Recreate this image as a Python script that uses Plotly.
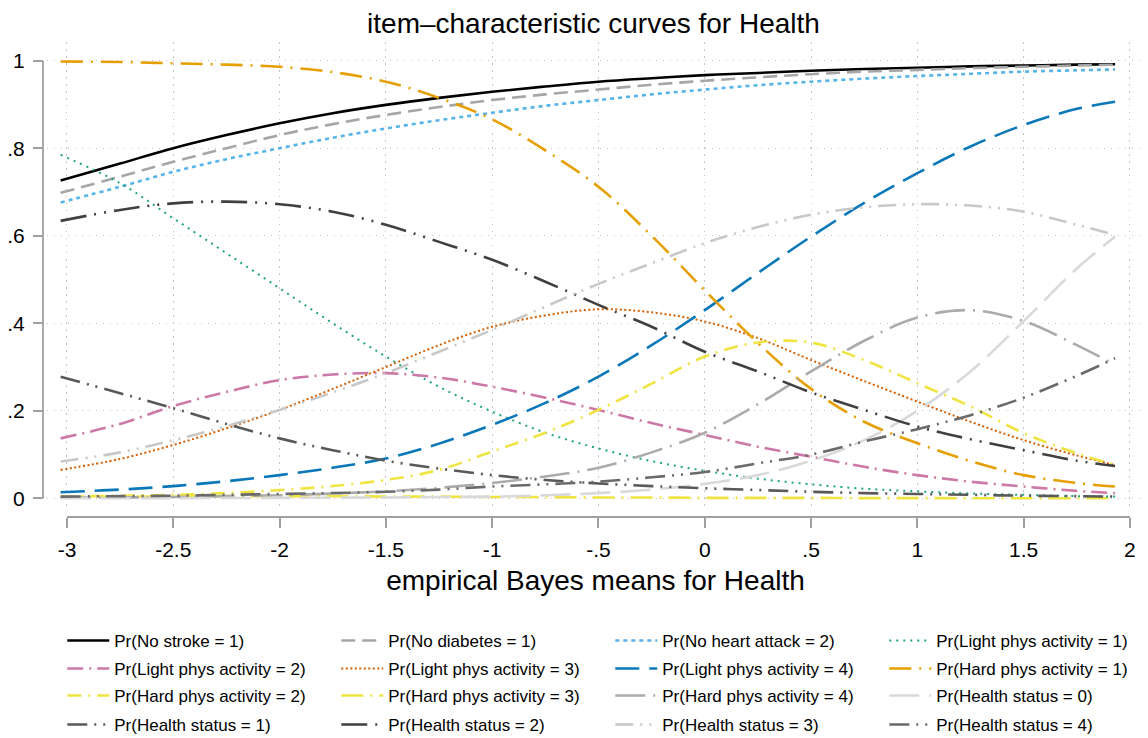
import plotly.graph_objects as go

# theta values (empirical Bayes means for Health) at which curves were read
theta = [-3.03, -2.75, -2.5, -2.25, -2.0, -1.75, -1.5, -1.25, -1.0, -0.75, -0.5,
         -0.25, 0.0, 0.25, 0.5, 0.75, 1.0, 1.25, 1.5, 1.75, 1.93]

no_stroke_1 = [0.726, 0.765, 0.800, 0.830, 0.857, 0.880, 0.899, 0.915, 0.929, 0.941, 0.952,
               0.960, 0.967, 0.972, 0.977, 0.981, 0.984, 0.987, 0.989, 0.991, 0.992]
no_diabetes_1 = [0.698, 0.735, 0.769, 0.800, 0.830, 0.855, 0.876, 0.894, 0.910, 0.923, 0.934,
                 0.945, 0.954, 0.962, 0.969, 0.975, 0.979, 0.983, 0.986, 0.989, 0.991]
no_heart_2 = [0.676, 0.712, 0.746, 0.775, 0.800, 0.824, 0.845, 0.864, 0.881, 0.897, 0.910,
              0.923, 0.934, 0.944, 0.952, 0.959, 0.965, 0.970, 0.975, 0.978, 0.980]
light_1 = [0.785, 0.720, 0.640, 0.560, 0.480, 0.400, 0.324, 0.255, 0.198, 0.150, 0.114,
           0.085, 0.063, 0.045, 0.032, 0.022, 0.016, 0.011, 0.008, 0.005, 0.004]
light_2 = [0.137, 0.170, 0.211, 0.243, 0.270, 0.283, 0.286, 0.276, 0.255, 0.230, 0.202,
           0.172, 0.145, 0.118, 0.095, 0.072, 0.053, 0.038, 0.027, 0.017, 0.012]
light_3 = [0.065, 0.090, 0.122, 0.160, 0.202, 0.250, 0.300, 0.350, 0.392, 0.418, 0.432,
           0.425, 0.404, 0.366, 0.316, 0.268, 0.221, 0.175, 0.133, 0.098, 0.076]
light_4 = [0.014, 0.020, 0.028, 0.039, 0.053, 0.070, 0.091, 0.125, 0.168, 0.218, 0.278,
           0.350, 0.430, 0.515, 0.598, 0.675, 0.743, 0.804, 0.853, 0.890, 0.906]
hard_1 = [0.998, 0.997, 0.994, 0.991, 0.986, 0.974, 0.952, 0.915, 0.866, 0.795, 0.712,
          0.600, 0.475, 0.355, 0.250, 0.175, 0.126, 0.085, 0.053, 0.035, 0.027]
hard_2 = [0.004, 0.006, 0.008, 0.012, 0.019, 0.028, 0.042, 0.065, 0.107, 0.150, 0.202,
          0.262, 0.324, 0.356, 0.356, 0.316, 0.263, 0.210, 0.149, 0.103, 0.076]
hard_3 = [0.003, 0.004, 0.004, 0.005, 0.005, 0.005, 0.004, 0.004, 0.003, 0.003, 0.002,
          0.002, 0.001, 0.001, 0.001, 0.0005, 0.0005, 0.0003, 0.0002, 0.0001, 0.0001]
hard_4 = [0.0015, 0.002, 0.003, 0.005, 0.007, 0.011, 0.016, 0.024, 0.035, 0.050, 0.070,
          0.105, 0.150, 0.215, 0.290, 0.360, 0.413, 0.430, 0.405, 0.350, 0.305]
health_0 = [0.0002, 0.0003, 0.0005, 0.0008, 0.001, 0.0015, 0.002, 0.003, 0.004, 0.007, 0.012,
            0.020, 0.033, 0.053, 0.086, 0.133, 0.200, 0.290, 0.405, 0.525, 0.598]
health_1 = [0.278, 0.240, 0.206, 0.170, 0.137, 0.110, 0.086, 0.068, 0.053, 0.042, 0.034,
            0.028, 0.023, 0.019, 0.015, 0.012, 0.010, 0.008, 0.006, 0.005, 0.004]
health_2 = [0.634, 0.659, 0.674, 0.678, 0.672, 0.655, 0.625, 0.586, 0.545, 0.495, 0.442,
            0.392, 0.335, 0.290, 0.242, 0.202, 0.164, 0.135, 0.110, 0.086, 0.074]
health_3 = [0.084, 0.105, 0.133, 0.165, 0.202, 0.242, 0.286, 0.335, 0.385, 0.438, 0.490,
            0.537, 0.583, 0.620, 0.648, 0.665, 0.672, 0.669, 0.655, 0.625, 0.602]
health_4 = [0.004, 0.005, 0.006, 0.008, 0.010, 0.012, 0.015, 0.020, 0.027, 0.032, 0.038,
            0.048, 0.060, 0.080, 0.100, 0.130, 0.158, 0.190, 0.230, 0.280, 0.320]

series_names = ["Pr(No stroke = 1)", "Pr(No diabetes = 1)", "Pr(No heart attack = 2)",
                "Pr(Light phys activity = 1)", "Pr(Light phys activity = 2)",
                "Pr(Light phys activity = 3)", "Pr(Light phys activity = 4)",
                "Pr(Hard phys activity = 1)", "Pr(Hard phys activity = 2)",
                "Pr(Hard phys activity = 3)", "Pr(Hard phys activity = 4)",
                "Pr(Health status = 0)", "Pr(Health status = 1)", "Pr(Health status = 2)",
                "Pr(Health status = 3)", "Pr(Health status = 4)"]
series_values = [no_stroke_1, no_diabetes_1, no_heart_2, light_1, light_2, light_3, light_4,
                 hard_1, hard_2, hard_3, hard_4, health_0, health_1, health_2, health_3, health_4]

x_tickvals = [-3, -2.5, -2, -1.5, -1, -0.5, 0, 0.5, 1, 1.5, 2]
x_ticktext = ["-3", "-2.5", "-2", "-1.5", "-1", "-.5", "0", ".5", "1", "1.5", "2"]
y_tickvals = [0, 0.2, 0.4, 0.6, 0.8, 1]
y_ticktext = ["0", ".2", ".4", ".6", ".8", "1"]

styles = [
    ("#000000", "solid", 2.6),
    ("#a6a6a6", "14px,7px", 2.6),
    ("#56B4E9", "4px,4px", 2.6),
    ("#1fa57d", "2px,5px", 2.0),
    ("#CC79A7", "16px,6px,2px,6px", 2.6),
    ("#D55E00", "2px,2.5px", 2.0),
    ("#0a78b8", "24px,10px", 2.6),
    ("#E69F00", "22px,8px,2px,8px", 2.6),
    ("#F0E442", "14px,7px,2px,7px", 2.6),
    ("#F0E442", "22px,7px,2px,7px", 2.6),
    ("#ababab", "30px,8px,2px,8px", 2.6),
    ("#d9d9d9", "30px,10px", 2.6),
    ("#595959", "20px,7px,2px,7px,2px,7px", 2.6),
    ("#404040", "26px,8px,2px,8px,2px,8px", 2.6),
    ("#c8c8c8", "18px,7px,2px,7px,2px,7px", 2.6),
    ("#6a6a6a", "20px,7px,2px,7px,2px,7px", 2.6),
]

FONT = "Liberation Sans, Arial, sans-serif"
axis_col = "#a0a0a0"
grid_col = "#c4c4c4"

# legend rows (4 entries per row) -> one horizontal legend per row
legend_ids = ["legend", "legend2", "legend3", "legend4"]
row_tops_px = [623, 651, 678, 707]
PAPER_BOTTOM = 517
PAPER_H = 738 - 42 - 221

# the near-zero curve is drawn first (underneath), legend order kept via legendrank
draw_order = [9] + [i for i in range(len(series_names)) if i != 9]

fig = go.Figure()
for i in draw_order:
    name, vals, (col, dash, w) = series_names[i], series_values[i], styles[i]
    fig.add_trace(go.Scatter(x=theta, y=vals, mode="lines", name=name,
                             legend=legend_ids[i // 4], legendrank=i + 1,
                             line=dict(color=col, dash=dash, width=w, shape="spline", smoothing=1.0)))

legend_common = dict(orientation="h", xanchor="left", yanchor="top",
                     entrywidth=217, entrywidthmode="pixels", itemwidth=42,
                     font=dict(size=17, family=FONT, color="black"),
                     bgcolor="rgba(0,0,0,0)", traceorder="normal", itemclick=False,
                     itemdoubleclick=False)
legend_layouts = {}
for lid, top in zip(legend_ids, row_tops_px):
    legend_layouts[lid] = dict(legend_common, x=0.0175, y=(PAPER_BOTTOM - top) / PAPER_H)

fig.update_layout(
    width=1148, height=738,
    margin=dict(l=43, r=4, t=42, b=221, autoexpand=False),
    paper_bgcolor="white", plot_bgcolor="white",
    font=dict(family=FONT, color="black"),
    title=dict(text="item\u2013characteristic curves for Health", x=0.5, xref="paper",
               xanchor="center", y=0.982, yref="container", yanchor="top",
               font=dict(size=28, family=FONT, color="black")),
    showlegend=True,
    xaxis=dict(domain=[0.00363, 1], range=[-3.094, 2.066], anchor="free", position=0,
               tickmode="array", tickvals=x_tickvals, ticktext=x_ticktext,
               ticks="outside", ticklen=10, tickwidth=1.5, tickcolor=axis_col,
               ticklabelstandoff=4,
               tickfont=dict(size=21, family=FONT, color="black"),
               showline=False, zeroline=False,
               showgrid=True, gridcolor=grid_col, gridwidth=1, griddash="1.5px,5.5px",
               title=dict(text="empirical Bayes means for Health", standoff=10,
                          font=dict(size=28, family=FONT, color="black"))),
    yaxis=dict(domain=[0.0147, 1], range=[-0.0267, 1.0427], anchor="free", position=0,
               tickmode="array", tickvals=y_tickvals, ticktext=y_ticktext,
               ticks="outside", ticklen=10, tickwidth=1.5, tickcolor=axis_col,
               ticklabelstandoff=4,
               tickfont=dict(size=21, family=FONT, color="black"),
               showline=False, zeroline=False,
               showgrid=True, gridcolor=grid_col, gridwidth=1, griddash="1.5px,5.5px"),
    **legend_layouts,
)

# axis lines spanning only the labelled range (Stata style, offset from plot region)
fig.add_shape(type="line", xref="x", yref="paper", x0=x_tickvals[0], x1=x_tickvals[-1],
              y0=0, y1=0, line=dict(color=axis_col, width=1.8), layer="above")
fig.add_shape(type="line", xref="paper", yref="y", x0=0, x1=0,
              y0=y_tickvals[0], y1=y_tickvals[-1], line=dict(color=axis_col, width=1.8), layer="above")

fig.write_html("out.html")
